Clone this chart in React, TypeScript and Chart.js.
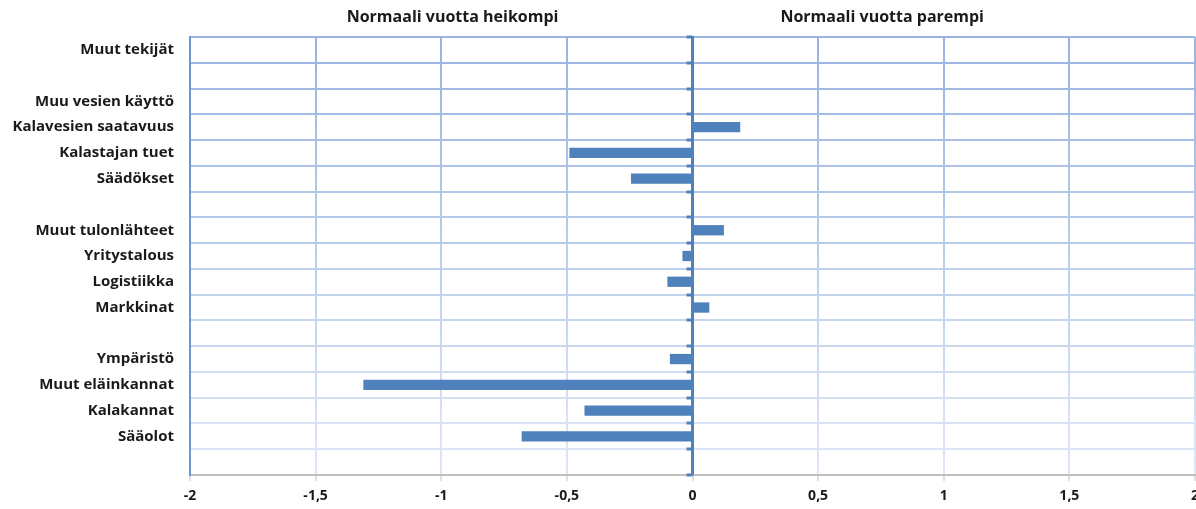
import React, { useEffect, useRef } from "react";
import { Chart, registerables } from "chart.js";

Chart.register(...registerables);

const categories: string[] = [
  "Muut tekijät",
  "",
  "Muu vesien käyttö",
  "Kalavesien saatavuus",
  "Kalastajan tuet",
  "Säädökset",
  "",
  "Muut tulonlähteet",
  "Yritystalous",
  "Logistiikka",
  "Markkinat",
  "",
  "Ympäristö",
  "Muut eläinkannat",
  "Kalakannat",
  "Sääolot",
  "",
];

const values: (number | null)[] = [
  null, null, null, 0.19, -0.49, -0.245, null, 0.125, -0.04, -0.1, 0.067, null, -0.09, -1.31, -0.43, -0.68, null,
];

const xTicks: number[] = [-2, -1.5, -1, -0.5, 0, 0.5, 1, 1.5, 2];
const headerLeft = "Normaali vuotta heikompi";
const headerRight = "Normaali vuotta parempi";
const headerLeftAt = -0.955;
const headerRightAt = 0.755;

const FONT = "'Open Sans', 'Liberation Sans', sans-serif";
const BAR = "#4f81bd";

function gridGradient(ctx: any) {
  const chart = ctx.chart;
  const area = chart.chartArea;
  if (!area) return "#c3d3ee";
  const g = chart.ctx.createLinearGradient(0, area.top, 0, area.bottom);
  g.addColorStop(0, "#98b3e2");
  g.addColorStop(1, "#e0e8f6");
  return g;
}

const overlay = {
  id: "overlay",
  afterDatasetsDraw(chart: any) {
    const { ctx, scales } = chart;
    const xs = scales.x;
    const ys = scales.y;
    const x0 = xs.getPixelForValue(0);
    ctx.save();
    ctx.strokeStyle = BAR;
    ctx.lineWidth = 3;
    ctx.beginPath();
    ctx.moveTo(x0, chart.chartArea.top - 1);
    ctx.lineTo(x0, chart.chartArea.bottom);
    ctx.stroke();
    for (let i = 0; i <= categories.length; i++) {
      const y = Math.round(ys.getPixelForValue(i - 0.5));
      ctx.beginPath();
      ctx.moveTo(x0 - 6, y);
      ctx.lineTo(x0, y);
      ctx.stroke();
    }
    ctx.fillStyle = "#1a1a1a";
    ctx.font = `bold 16px ${FONT}`;
    ctx.textAlign = "center";
    ctx.textBaseline = "middle";
    ctx.fillText(headerLeft, xs.getPixelForValue(headerLeftAt), 17);
    ctx.fillText(headerRight, xs.getPixelForValue(headerRightAt), 17);
    ctx.restore();
  },
};

export default function App() {
  const ref = useRef<HTMLCanvasElement | null>(null);
  useEffect(() => {
    if (!ref.current) return;
    const chart = new Chart(ref.current, {
      type: "bar",
      data: {
        labels: categories,
        datasets: [
          {
            data: values,
            backgroundColor: BAR,
            borderWidth: 0,
            barPercentage: 0.4,
            categoryPercentage: 1,
          },
        ],
      },
      options: {
        indexAxis: "y",
        animation: false,
        responsive: true,
        maintainAspectRatio: false,
        layout: { padding: { top: 37, right: 1, left: 0, bottom: 0 } },
        plugins: { legend: { display: false }, tooltip: { enabled: false } },
        scales: {
          x: {
            type: "linear",
            min: -2,
            max: 2,
            afterBuildTicks: (scale: any) => {
              scale.ticks = xTicks.map((v) => ({ value: v }));
            },
            afterFit: (scale: any) => {
              scale.height = 34;
              scale.paddingLeft = 0;
              scale.paddingRight = 0;
            },
            ticks: {
              color: "#1a1a1a",
              font: { family: FONT, size: 14, weight: "bold" },
              padding: 7,
              maxRotation: 0,
              autoSkip: false,
              callback: (v: any) => String(v).replace(".", ","),
            },
            grid: {
              color: (ctx: any) => gridGradient(ctx),
              lineWidth: 2,
              drawTicks: true,
              tickLength: 6,
              tickColor: "#bfbfbf",
              tickWidth: 1,
            },
            border: { display: true, color: "#bfbfbf", width: 2 },
          },
          y: {
            type: "category",
            afterFit: (scale: any) => {
              scale.width = 190;
            },
            ticks: {
              color: "#1a1a1a",
              font: { family: FONT, size: 15, weight: "bold" },
              padding: 16,
              autoSkip: false,
            },
            grid: {
              color: (ctx: any) => gridGradient(ctx),
              lineWidth: 2,
              drawTicks: false,
              offset: true,
            },
            border: { display: true, color: "#6f95d6", width: 2 },
          },
        },
      },
      plugins: [overlay],
    });
    return () => chart.destroy();
  }, []);
  return (
    <div style={{ position: "fixed", left: 0, top: 0, width: 1196, height: 509, overflow: "hidden", background: "#fff" }}>
      <canvas ref={ref} />
    </div>
  );
}
